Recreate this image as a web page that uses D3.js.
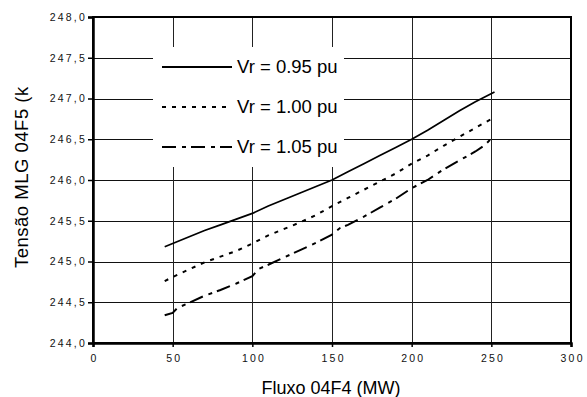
<!DOCTYPE html>
<html>
<head>
<meta charset="utf-8">
<script src="https://cdn.jsdelivr.net/npm/d3@7"></script>
<style>
  body { margin: 0; background: #fff; }
  svg { display: block; font-family: "Liberation Sans", Arial, sans-serif; }
</style>
</head>
<body>
<div id="chart"></div>
<script>
// values
const xTicks = [0, 50, 100, 150, 200, 250, 300]
const yTicks = [244, 244.5, 245, 245.5, 246, 246.5, 247, 247.5, 248]

const legendLabels = ['Vr = 0.95 pu', 'Vr = 1.00 pu', 'Vr = 1.05 pu']

const flow095 = [45, 50, 60, 70, 80, 90, 100, 110, 120, 130, 140, 150, 160, 170, 180, 190, 200, 210, 220, 230, 240, 252]
const volt095 = [245.18, 245.22, 245.30, 245.38, 245.45, 245.52, 245.59, 245.68, 245.76, 245.84, 245.92, 246.00, 246.10, 246.20, 246.30, 246.40, 246.50, 246.61, 246.73, 246.85, 246.96, 247.08]

const flow100 = [45, 50, 60, 70, 80, 90, 100, 110, 120, 130, 140, 150, 160, 170, 180, 190, 200, 210, 220, 230, 240, 252]
const volt100 = [244.76, 244.81, 244.90, 244.99, 245.06, 245.13, 245.22, 245.32, 245.40, 245.48, 245.57, 245.68, 245.78, 245.88, 245.98, 246.08, 246.20, 246.30, 246.42, 246.53, 246.64, 246.77]

const flow105 = [45, 50, 53, 60, 70, 80, 90, 100, 104, 110, 120, 130, 140, 150, 155, 160, 170, 180, 190, 200, 210, 220, 230, 240, 246, 251]
const volt105 = [244.34, 244.37, 244.43, 244.49, 244.58, 244.65, 244.73, 244.82, 244.91, 244.96, 245.05, 245.14, 245.23, 245.33, 245.41, 245.45, 245.55, 245.66, 245.77, 245.90, 246.00, 246.13, 246.24, 246.35, 246.43, 246.53]

const W = 587
const H = 397
const margin = { top: 17, right: 16, bottom: 54, left: 93 }
const innerW = W - margin.left - margin.right
const innerH = H - margin.top - margin.bottom

const series = [
  { name: legendLabels[0], xs: flow095, ys: volt095, dash: null, width: 1.7 },
  { name: legendLabels[1], xs: flow100, ys: volt100, dash: '4,6', width: 2 },
  { name: legendLabels[2], xs: flow105, ys: volt105, dash: '14,6,4,5', width: 2 }
]

const comma = v => d3.format('.1f')(v).replace('.', ',')

const svg = d3.select('#chart')
  .append('svg')
  .attr('width', W)
  .attr('height', H)

const g = svg.append('g')
  .attr('transform', 'translate(' + margin.left + ',' + margin.top + ')')

const x = d3.scaleLinear().domain([0, 300]).range([0, innerW])
const y = d3.scaleLinear().domain([244, 248]).range([innerH, 0])

// grid
g.append('g')
  .selectAll('line')
  .data(yTicks)
  .enter()
  .append('line')
  .attr('x1', 0)
  .attr('x2', innerW)
  .attr('y1', d => Math.round(y(d)) + 0.5)
  .attr('y2', d => Math.round(y(d)) + 0.5)
  .style('stroke', '#111')
  .style('stroke-width', 1)

g.append('g')
  .selectAll('line')
  .data(xTicks)
  .enter()
  .append('line')
  .attr('x1', d => Math.round(x(d)) + 0.5)
  .attr('x2', d => Math.round(x(d)) + 0.5)
  .attr('y1', 0)
  .attr('y2', innerH)
  .style('stroke', '#222')
  .style('stroke-width', 1)

// legend box hides the grid behind it
const legend = g.append('g')
  .attr('transform', 'translate(' + (153 - margin.left) + ',' + (47 - margin.top) + ')')

legend.append('rect')
  .attr('width', 191)
  .attr('height', 120)
  .style('fill', '#fff')

legend.selectAll('.entry')
  .data(series)
  .enter()
  .append('g')
  .attr('class', 'entry')
  .attr('transform', (d, i) => 'translate(0,' + (20 + i * 40) + ')')
  .each(function (d) {
    const e = d3.select(this)
    e.append('line')
      .attr('x1', 9)
      .attr('x2', 79)
      .style('stroke', '#000')
      .style('stroke-width', 2)
      .style('stroke-dasharray', d.dash)
    e.append('text')
      .attr('x', 84)
      .attr('y', 6)
      .style('font-size', '18.5px')
      .text(d.name)
  })

// border
g.append('rect')
  .attr('width', innerW)
  .attr('height', innerH)
  .style('fill', 'none')
  .style('stroke', '#000')
  .style('stroke-width', 2)

// curves
const line = d3.line()
  .x(d => x(d[0]))
  .y(d => y(d[1]))

g.selectAll('.curve')
  .data(series)
  .enter()
  .append('path')
  .attr('class', 'curve')
  .attr('d', d => line(d.xs.map((v, i) => [v, d.ys[i]])))
  .style('fill', 'none')
  .style('stroke', '#000')
  .style('stroke-width', d => d.width)
  .style('stroke-dasharray', d => d.dash)

// axes
const yAxis = g.append('g')
  .call(d3.axisLeft(y).tickValues(yTicks).tickSize(5).tickPadding(4).tickFormat(comma))

const xAxis = g.append('g')
  .attr('transform', 'translate(0,' + innerH + ')')
  .call(d3.axisBottom(x).tickValues(xTicks).tickSize(4).tickPadding(8).tickFormat(d3.format('d')))

;[yAxis, xAxis].forEach(a => {
  a.select('.domain').style('stroke', '#000').style('stroke-width', 2.5)
  a.selectAll('.tick line').style('stroke', '#000').style('stroke-width', 1.5)
  a.selectAll('text')
    .style('font-family', '"Liberation Sans", Arial, sans-serif')
    .style('font-size', '10.5px')
    .style('letter-spacing', '2.2px')
    .style('fill', '#111')
})
xAxis.selectAll('text').attr('dx', 1.1)
yAxis.selectAll('text').attr('x', -6)

// titles
svg.append('text')
  .attr('x', 331)
  .attr('y', 394)
  .attr('text-anchor', 'middle')
  .style('font-size', '18px')
  .text('Fluxo 04F4 (MW)')

svg.append('clipPath')
  .attr('id', 'ytitle-clip')
  .append('rect')
  .attr('x', 0)
  .attr('y', 87)
  .attr('width', 60)
  .attr('height', 300)

svg.append('g')
  .attr('clip-path', 'url(#ytitle-clip)')
  .append('text')
  .attr('transform', 'translate(28,268) rotate(-90)')
  .style('font-size', '18.5px')
  .style('letter-spacing', '0.5px')
  .text('Tensão MLG 04F5 (kV)')
</script>
</body>
</html>
